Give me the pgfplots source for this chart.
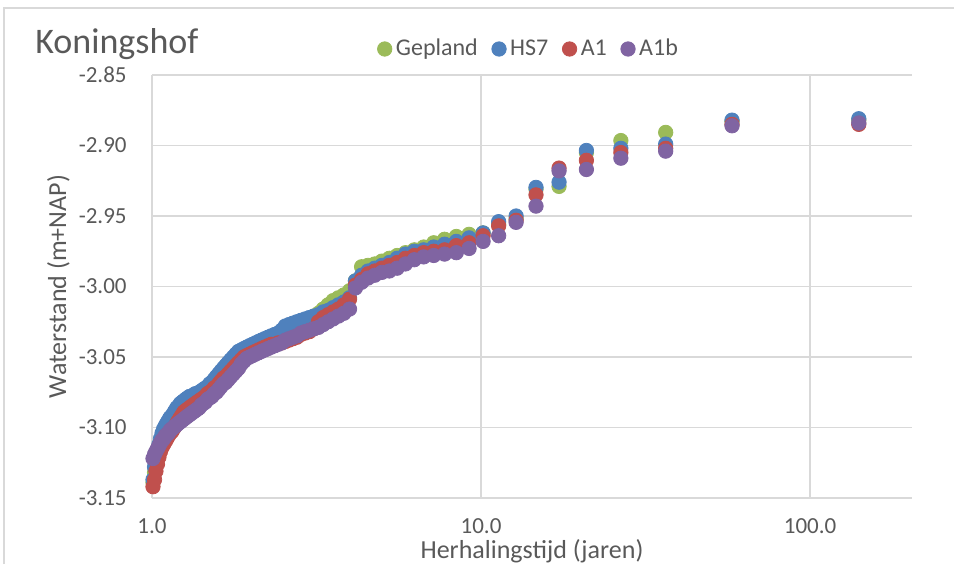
\documentclass[border=0pt]{standalone}
\usepackage{pgfplots}
\pgfplotsset{compat=1.18}
\usepackage{pgfplotstable}
\usepackage{fontspec}
\setmainfont{Carlito}
\definecolor{cG}{HTML}{9BBB59}
\definecolor{cB}{HTML}{4F81BD}
\definecolor{cR}{HTML}{C0504D}
\definecolor{cP}{HTML}{8064A2}
\definecolor{txt}{HTML}{595959}
\definecolor{grd}{HTML}{D9D9D9}
\pgfplotstableread{
T G B R P
140.6 -2.882 -2.881 -2.885 -2.884
57.9 -2.883 -2.882 -2.885 -2.886
36.4 -2.8907 -2.899 -2.902 -2.904
26.6 -2.8965 -2.902 -2.905 -2.909
20.9 -2.905 -2.9035 -2.9105 -2.917
17.26 -2.929 -2.926 -2.916 -2.918
14.69 -2.931 -2.9297 -2.935 -2.943
12.78 -2.952 -2.950 -2.953 -2.9545
11.31 -2.956 -2.954 -2.957 -2.964
10.144 -2.962 -2.962 -2.964 -2.968
9.196 -2.963 -2.9655 -2.969 -2.973
8.410 -2.9645 -2.968 -2.971 -2.976
7.748 -2.9665 -2.970 -2.974 -2.977
7.182 -2.969 -2.972 -2.975 -2.978
6.694 -2.972 -2.974 -2.976 -2.979
6.268 -2.974 -2.975 -2.978 -2.981
5.892 -2.976 -2.977 -2.980 -2.984
5.559 -2.978 -2.980 -2.983 -2.987
5.262 -2.980 -2.983 -2.985 -2.989
4.995 -2.982 -2.985 -2.987 -2.990
4.754 -2.984 -2.987 -2.989 -2.992
4.535 -2.985 -2.989 -2.991 -2.994
4.335 -2.986 -2.992 -2.995 -2.997
4.152 -2.996 -2.996 -2.999 -3.001
3.984 -3.003 -3.008 -3.009 -3.016
3.829 -3.006 -3.011 -3.013 -3.019
3.685 -3.008 -3.013 -3.016 -3.021
3.552 -3.010 -3.015 -3.018 -3.023
3.429 -3.013 -3.017 -3.020 -3.025
3.313 -3.016 -3.018 -3.022 -3.027
3.205 -3.019 -3.020 -3.025 -3.029
3.104 -3.021 -3.021 -3.030 -3.030
3.009 -3.023 -3.022 -3.032 -3.031
2.920 -3.025 -3.023 -3.033 -3.032
2.836 -3.026 -3.024 -3.034 -3.033
2.756 -3.027 -3.025 -3.036 -3.035
2.681 -3.028 -3.026 -3.037 -3.036
2.610 -3.029 -3.027 -3.038 -3.037
2.543 -3.030 -3.028 -3.039 -3.038
2.479 -3.032 -3.031 -3.040 -3.040
2.418 -3.034 -3.033 -3.040 -3.041
2.360 -3.035 -3.034 -3.041 -3.042
2.304 -3.036 -3.035 -3.041 -3.043
2.252 -3.037 -3.036 -3.042 -3.044
2.201 -3.038 -3.037 -3.043 -3.045
2.153 -3.039 -3.038 -3.044 -3.046
2.107 -3.040 -3.039 -3.045 -3.047
2.063 -3.041 -3.040 -3.046 -3.048
2.021 -3.042 -3.041 -3.047 -3.049
1.980 -3.043 -3.042 -3.048 -3.050
1.941 -3.044 -3.043 -3.049 -3.051
1.903 -3.045 -3.044 -3.050 -3.053
1.867 -3.046 -3.045 -3.052 -3.055
1.832 -3.047 -3.046 -3.054 -3.058
1.799 -3.049 -3.048 -3.056 -3.060
1.767 -3.051 -3.050 -3.058 -3.062
1.735 -3.053 -3.052 -3.060 -3.064
1.705 -3.055 -3.054 -3.062 -3.066
1.676 -3.057 -3.056 -3.064 -3.068
1.648 -3.059 -3.058 -3.065 -3.069
1.621 -3.061 -3.060 -3.067 -3.071
1.595 -3.063 -3.062 -3.069 -3.073
1.569 -3.065 -3.064 -3.071 -3.075
1.545 -3.067 -3.066 -3.072 -3.076
1.521 -3.069 -3.068 -3.074 -3.078
1.498 -3.071 -3.069 -3.075 -3.079
1.475 -3.073 -3.071 -3.076 -3.080
1.453 -3.074 -3.072 -3.078 -3.082
1.432 -3.075 -3.073 -3.079 -3.083
1.412 -3.076 -3.074 -3.080 -3.084
1.392 -3.077 -3.075 -3.081 -3.086
1.372 -3.078 -3.076 -3.082 -3.087
1.354 -3.079 -3.076 -3.083 -3.088
1.335 -3.080 -3.077 -3.084 -3.089
1.317 -3.081 -3.078 -3.085 -3.090
1.300 -3.082 -3.078 -3.086 -3.091
1.283 -3.083 -3.079 -3.087 -3.092
1.266 -3.084 -3.080 -3.088 -3.093
1.250 -3.085 -3.081 -3.089 -3.094
1.235 -3.087 -3.082 -3.091 -3.095
1.219 -3.088 -3.083 -3.093 -3.096
1.204 -3.090 -3.085 -3.095 -3.097
1.190 -3.091 -3.086 -3.097 -3.098
1.176 -3.093 -3.088 -3.099 -3.099
1.162 -3.095 -3.090 -3.101 -3.100
1.148 -3.097 -3.092 -3.103 -3.101
1.135 -3.099 -3.093 -3.104 -3.102
1.122 -3.101 -3.095 -3.106 -3.104
1.109 -3.103 -3.097 -3.108 -3.105
1.097 -3.105 -3.099 -3.110 -3.106
1.085 -3.107 -3.101 -3.112 -3.108
1.073 -3.110 -3.104 -3.114 -3.109
1.061 -3.113 -3.108 -3.117 -3.111
1.050 -3.117 -3.112 -3.121 -3.113
1.039 -3.121 -3.117 -3.126 -3.115
1.028 -3.126 -3.122 -3.131 -3.117
1.018 -3.132 -3.128 -3.137 -3.119
1.007 -3.139 -3.137 -3.142 -3.122
}\datatable
\newcommand{\tickfont}{\fontsize{11.5}{13}\selectfont}
\newcommand{\legfont}{\fontsize{12}{14}\selectfont}
\begin{document}
\begin{tikzpicture}[x=1pt,y=1pt]
\useasboundingbox (0,0) rectangle (477,282);
\draw[grd, line width=1pt] (2,0) -- (2,278) -- (477,278);
\node[anchor=base west, text=txt, inner sep=0pt, font=\fontsize{18}{21}\selectfont] at (17.5,255) {Koningshof};
\begin{axis}[
  at={(76pt,33pt)}, anchor=south west,
  scale only axis, width=380pt, height=211.5pt,
  xmode=log, xmin=1, xmax=204,
  ymin=-3.15, ymax=-2.85,
  axis lines=left,
  axis line style={draw=grd, line width=0.8pt, -},
  major tick length=0pt,
  minor tick length=0pt,
  xtick={1,10,100}, xticklabels={1.0,10.0,100.0},
  ytick={-3.15,-3.10,-3.05,-3.00,-2.95,-2.90,-2.85},
  yticklabels={-3.15,-3.10,-3.05,-3.00,-2.95,-2.90,-2.85},
  xminorgrids=false,
  grid=major,
  major grid style={draw=grd, line width=0.8pt},
  xticklabel style={anchor=base, yshift=-17.5pt, font=\tickfont, text=txt},
  yticklabel style={anchor=east, inner sep=0pt, xshift=-12.5pt, font=\tickfont, text=txt},
  xlabel={Herhalingstijd (jaren)},
  ylabel={Waterstand (m+NAP)},
  xlabel style={at={(axis description cs:0.5,0)}, anchor=base, yshift=-30pt, font=\fontsize{13}{15}\selectfont, text=txt, inner sep=0pt},
  ylabel style={at={(axis description cs:-0.123,0.5)}, anchor=center, font=\fontsize{13}{15}\selectfont, text=txt, inner sep=0pt},
  legend columns=-1,
  legend style={at={(0.497,1.0615)}, anchor=center, draw=none, fill=none, font=\legfont, text=txt,
    /tikz/every odd column/.append style={column sep=0pt},
    /tikz/every even column/.append style={column sep=5pt}},
  legend image code/.code={\draw[mark repeat=2,mark phase=2,#1] plot coordinates {(0cm,0cm) (0.12cm,0cm) (0.24cm,0cm)};},
  clip=false,
]
\addplot[only marks, mark=*, mark size=3.6pt, color=cG, mark options={draw=cG, fill=cG}] table[x=T, y=G] {\datatable};
\addlegendentry{Gepland}
\addplot[only marks, mark=*, mark size=3.6pt, color=cB, mark options={draw=cB, fill=cB}] table[x=T, y=B] {\datatable};
\addlegendentry{HS7}
\addplot[only marks, mark=*, mark size=3.6pt, color=cR, mark options={draw=cR, fill=cR}] table[x=T, y=R] {\datatable};
\addlegendentry{A1}
\addplot[only marks, mark=*, mark size=3.6pt, color=cP, mark options={draw=cP, fill=cP}] table[x=T, y=P] {\datatable};
\addlegendentry{A1b}
\end{axis}
\end{tikzpicture}
\end{document}
